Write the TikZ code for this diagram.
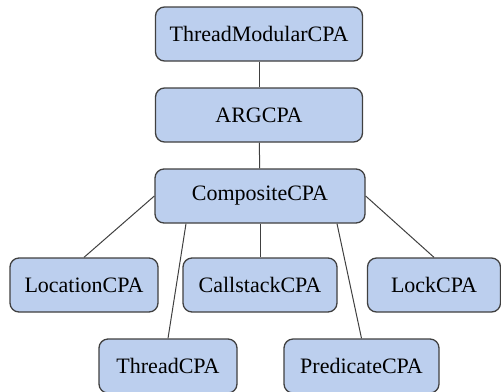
\documentclass[tikz,border=0pt]{standalone}
\usepackage{fontspec}
\setmainfont{Liberation Serif}
\usetikzlibrary{positioning}
\definecolor{cpaFill}{RGB}{188,207,238}
\definecolor{cpaLine}{RGB}{64,64,64}

\begin{document}
\begin{tikzpicture}[x=0.5pt,y=-0.5pt,
      box/.style={draw=cpaLine,line width=0.65pt,rounded corners=4.5pt,fill=cpaFill,
                  minimum height=27pt,inner sep=0pt,font=\fontsize{11}{13}\selectfont},
      link/.style={draw=cpaLine,line width=0.5pt}]
    \clip (0,0) rectangle (501,391);
    \node[box,minimum width=103.5pt] (tm) at (259,34) {ThreadModularCPA};
    \node[box,minimum width=103.5pt] (arg) at (259,115) {ARGCPA};
    \node[box,minimum width=105pt] (comp) at (260,196) {CompositeCPA};
    % row of sub-analyses
    \node[box,minimum width=74pt] (loc) at (84,285) {LocationCPA};
    \node[box,minimum width=77pt] (call) at (260,285) {CallstackCPA};
    \node[box,minimum width=66.5pt] (lock) at (434,285) {LockCPA};
    \node[box,minimum width=69pt] (thr) at (168,366) {ThreadCPA};
    \node[box,minimum width=77.5pt] (pred) at (361.5,366) {PredicateCPA};
    \draw[link] (tm) -- (arg);
    \draw[link] (arg) -- (comp);
    \draw[link] (comp.west) -- (loc.north);
    \draw[link] ([xshift=-37pt]comp.south) -- (thr.north);
    \draw[link] (comp.south) -- (call.north);
    \draw[link] ([xshift=38.5pt]comp.south) -- (pred.north);
    \draw[link] (comp.east) -- (lock.north);
  \end{tikzpicture}
\end{document}
